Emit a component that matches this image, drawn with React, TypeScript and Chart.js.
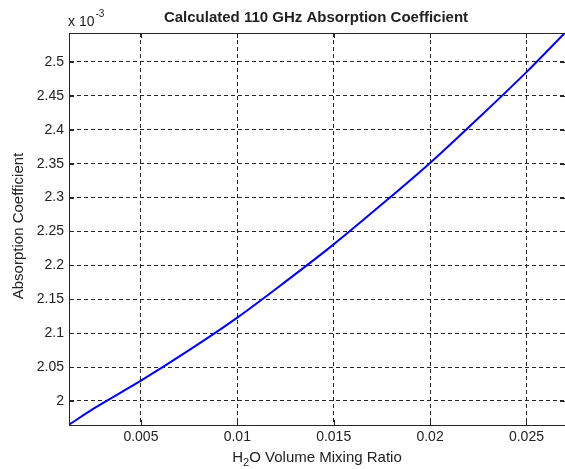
import React, { useEffect, useRef } from "react";
import { Chart, registerables } from "chart.js";

Chart.register(...registerables);

// H2O volume mixing ratio (x) and absorption coefficient in units of 1e-3 (y)
const mixingRatio = [0.00127, 0.0025, 0.005, 0.0075, 0.01, 0.0125, 0.015, 0.0175, 0.02, 0.0225, 0.025, 0.027];
const absorptionE3 = [1.965, 1.988, 2.030, 2.075, 2.123, 2.176, 2.231, 2.290, 2.351, 2.417, 2.485, 2.543];

const xMin = 0.00127;
const xMax = 0.027;
const yMin = 1.9646;
const yMax = 2.5427;
const xStep = 0.005;
const yStep = 0.05;

const titleText = "Calculated 110 GHz Absorption Coefficient";
const yLabelText = "Absorption Coefficient";
const xLabelParts = ["H", "2", "O Volume Mixing Ratio"];
const exponentBase = "x 10";
const exponentPower = "-3";

const FONT = "'Liberation Sans', Arial, sans-serif";
const TEXT = "#222222";
const AXIS = "#262626";

const decor = {
  id: "decor",
  afterDraw(chart: any) {
    const { ctx, chartArea } = chart;
    const { left, top, right, bottom } = chartArea;
    const xs = chart.scales.x;
    const ys = chart.scales.y;
    ctx.save();
    ctx.strokeStyle = AXIS;
    ctx.lineWidth = 1;
    ctx.setLineDash([]);
    // top frame line
    ctx.beginPath();
    ctx.moveTo(left, Math.round(top) + 0.5);
    ctx.lineTo(right, Math.round(top) + 0.5);
    ctx.stroke();
    // inner tick marks
    const tl = 5;
    xs.ticks.forEach((t: any) => {
      const px = Math.round(xs.getPixelForValue(t.value)) + 0.5;
      ctx.beginPath();
      ctx.moveTo(px, bottom);
      ctx.lineTo(px, bottom - tl);
      ctx.moveTo(px, top);
      ctx.lineTo(px, top + tl);
      ctx.stroke();
    });
    ys.ticks.forEach((t: any) => {
      const py = Math.round(ys.getPixelForValue(t.value)) + 0.5;
      ctx.beginPath();
      ctx.moveTo(left, py);
      ctx.lineTo(left + tl, py);
      ctx.moveTo(right, py);
      ctx.lineTo(right - tl, py);
      ctx.stroke();
    });

    ctx.fillStyle = TEXT;
    ctx.textBaseline = "alphabetic";
    const cx = (left + right) / 2;
    // title
    ctx.font = `bold 15px ${FONT}`;
    ctx.textAlign = "center";
    ctx.fillText(titleText, cx - 1, 22);
    // exponent
    ctx.textAlign = "left";
    ctx.font = `14px ${FONT}`;
    ctx.fillText(exponentBase, 68, 26);
    const bw = ctx.measureText(exponentBase).width;
    ctx.font = `10px ${FONT}`;
    ctx.fillText(exponentPower, 68 + bw + 1, 17);
    // x label with subscript
    ctx.font = `15px ${FONT}`;
    const w0 = ctx.measureText(xLabelParts[0]).width;
    const w2 = ctx.measureText(xLabelParts[2]).width;
    ctx.font = `11px ${FONT}`;
    const w1 = ctx.measureText(xLabelParts[1]).width;
    const total = w0 + w1 + w2;
    let sx = cx - total / 2;
    const by = 462;
    ctx.font = `15px ${FONT}`;
    ctx.fillText(xLabelParts[0], sx, by);
    sx += w0;
    ctx.font = `11px ${FONT}`;
    ctx.fillText(xLabelParts[1], sx, by + 4);
    sx += w1;
    ctx.font = `15px ${FONT}`;
    ctx.fillText(xLabelParts[2], sx, by);
    // y label
    ctx.save();
    ctx.translate(23, (top + bottom) / 2 - 3);
    ctx.rotate(-Math.PI / 2);
    ctx.textAlign = "center";
    ctx.font = `15px ${FONT}`;
    ctx.fillText(yLabelText, 0, 0);
    ctx.restore();
    ctx.restore();
  },
};

const fmt = (v: number) => String(Number(v.toFixed(4)));

export default function App() {
  const ref = useRef<HTMLCanvasElement | null>(null);
  useEffect(() => {
    if (!ref.current) return;
    const chart = new Chart(ref.current, {
      type: "line",
      data: {
        datasets: [
          {
            data: mixingRatio.map((x, i) => ({ x, y: absorptionE3[i] })),
            borderColor: "#0000ff",
            borderWidth: 2,
            pointRadius: 0,
            fill: false,
            cubicInterpolationMode: "monotone",
          },
        ],
      },
      options: {
        animation: false,
        responsive: false,
        devicePixelRatio: 1,
        layout: { padding: { top: 33, left: 0, right: 0, bottom: 0 } },
        plugins: { legend: { display: false }, tooltip: { enabled: false }, title: { display: false } },
        scales: {
          x: {
            type: "linear",
            min: xMin,
            max: xMax,
            afterFit: (s: any) => {
              s.height = 44;
            },
            ticks: {
              stepSize: xStep,
              includeBounds: false,
              autoSkip: false,
              maxRotation: 0,
              padding: 4,
              color: TEXT,
              font: { family: FONT, size: 14 },
              callback: (v: any) => fmt(Number(v)),
            },
            grid: { color: AXIS, lineWidth: 1, drawTicks: false },
            border: { color: AXIS, width: 1, dash: [4, 3] },
          },
          y: {
            type: "linear",
            min: yMin,
            max: yMax,
            afterFit: (s: any) => {
              s.width = 69;
            },
            ticks: {
              stepSize: yStep,
              includeBounds: false,
              autoSkip: false,
              padding: 5,
              color: TEXT,
              font: { family: FONT, size: 14 },
              callback: (v: any) => fmt(Number(v)),
            },
            grid: { color: AXIS, lineWidth: 1, drawTicks: false },
            border: { color: AXIS, width: 1, dash: [4, 3] },
          },
        },
      },
      plugins: [decor],
    } as any);
    return () => chart.destroy();
  }, []);
  return (
    <div style={{ position: "fixed", left: 0, top: 0, width: 565, height: 469, background: "#ffffff", overflow: "hidden" }}>
      <canvas ref={ref} width={565} height={469} style={{ display: "block", width: 565, height: 469 }} />
    </div>
  );
}
